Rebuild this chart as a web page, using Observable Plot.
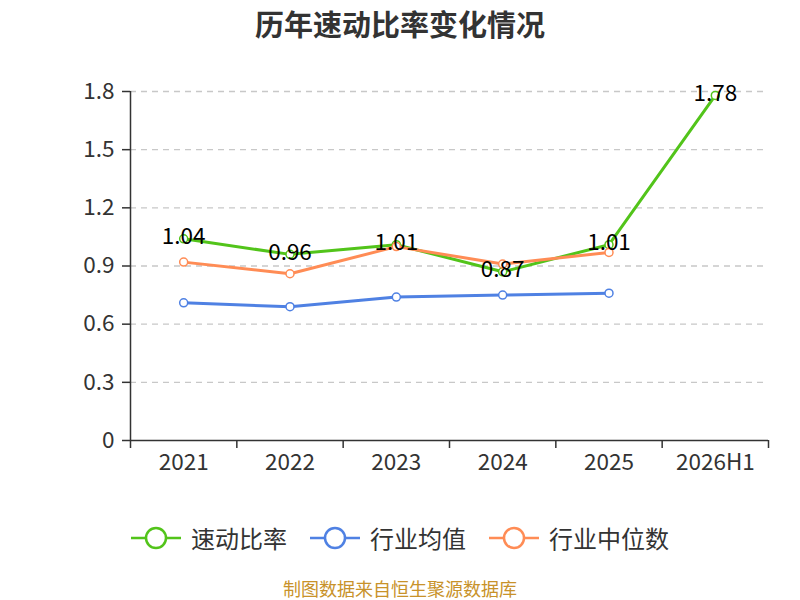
<!DOCTYPE html>
<html>
<head>
<meta charset="utf-8">
<script src="https://cdn.jsdelivr.net/npm/d3@7"></script>
<script src="https://cdn.jsdelivr.net/npm/@observablehq/plot@0.6"></script>
<style>
  body { margin: 0; background: #fff; font-family: "Noto Sans CJK SC", "Noto Sans", sans-serif; }
  #wrap { width: 800px; height: 600px; position: relative; overflow: hidden; }
  #title { height: 50px; line-height: 46px; text-align: center; font-size: 29px; font-weight: bold; color: #333; }
  #legend { position: absolute; top: 522px; left: 0; width: 800px; display: flex; justify-content: center; font-size: 24px; color: #333; white-space: nowrap; line-height: 32px; }
  .item { display: inline-flex; align-items: center; margin: 0 11.5px; }
  .item svg { margin-right: 10px; }
  #caption { position: absolute; top: 577px; left: 0; width: 800px; text-align: center; font-size: 18px; line-height: 22px; color: #c8922a; }
  #chart svg text { font-size: 22.5px; }
</style>
</head>
<body>
<div id="wrap">
  <div id="title">历年速动比率变化情况</div>
  <div id="chart"></div>
  <div id="legend"></div>
  <div id="caption">制图数据来自恒生聚源数据库</div>
</div>
<script>
const categories = ["2021", "2022", "2023", "2024", "2025", "2026H1"];
const quickRatio = [1.04, 0.96, 1.01, 0.87, 1.01, 1.78];
const industryAvg = [0.71, 0.69, 0.74, 0.75, 0.76];
const industryMedian = [0.92, 0.86, 1.00, 0.91, 0.97];
const yTicks = [0, 0.3, 0.6, 0.9, 1.2, 1.5, 1.8];
const seriesNames = ["速动比率", "行业均值", "行业中位数"];
const colors = ["#52c41a", "#4f81e3", "#ff8c55"];

const toRows = (vals, name) => vals.map((v, i) => ({ i: i + 0.5, v, name }));
const qRows = toRows(quickRatio, seriesNames[0]);
const aRows = toRows(industryAvg, seriesNames[1]);
const mRows = toRows(industryMedian, seriesNames[2]);

const font = "Noto Sans CJK SC, Noto Sans, sans-serif";

const chart = Plot.plot({
  width: 800,
  height: 450,
  marginLeft: 130,
  marginRight: 32,
  marginTop: 41,
  marginBottom: 60,
  style: { fontFamily: font, fontSize: "22.5px", background: "#fff", overflow: "visible" },
  x: { type: "linear", domain: [0, categories.length], label: null },
  y: { domain: [0, 1.8], label: null },
  marks: [
    Plot.gridY(yTicks.filter(d => d > 0), { stroke: "#c8c8c8", strokeOpacity: 1, strokeDasharray: "6,5", strokeWidth: 1.3 }),
    Plot.ruleX([0], { stroke: "#333", strokeWidth: 1.5 }),
    Plot.ruleY([0], { stroke: "#333", strokeWidth: 1.5 }),
    Plot.axisY({ ticks: yTicks, tickSize: 8, tickPadding: 8, stroke: "#333", label: null, tickFormat: d => String(d), fill: "#333", strokeWidth: 1.5 }),
    Plot.axisX({ ticks: d3.range(0, categories.length + 1), tickSize: 8, label: null, tickFormat: () => "", stroke: "#333", strokeWidth: 1.5 }),
    Plot.axisX({ ticks: categories.map((c, i) => i + 0.5), tickSize: 0, tickPadding: 14, label: null, tickFormat: d => categories[Math.round(d - 0.5)], fill: "#333" }),
    Plot.line(qRows, { x: "i", y: "v", stroke: colors[0], strokeWidth: 3 }),
    Plot.line(aRows, { x: "i", y: "v", stroke: colors[1], strokeWidth: 3 }),
    Plot.line(mRows, { x: "i", y: "v", stroke: colors[2], strokeWidth: 3 }),
    Plot.dot(qRows, { x: "i", y: "v", r: 4, fill: "#fff", stroke: colors[0], strokeWidth: 1.5 }),
    Plot.dot(aRows, { x: "i", y: "v", r: 4, fill: "#fff", stroke: colors[1], strokeWidth: 1.5 }),
    Plot.dot(mRows, { x: "i", y: "v", r: 4, fill: "#fff", stroke: colors[2], strokeWidth: 1.5 }),
    Plot.text(qRows, { x: "i", y: "v", text: d => d.v.toFixed(2), dy: -2, fill: "#000" })
  ]
});
document.getElementById("chart").appendChild(chart);

const legend = document.getElementById("legend");
seriesNames.forEach((name, k) => {
  const span = document.createElement("span");
  span.className = "item";
  span.innerHTML = `<svg width="50" height="24"><line x1="0" y1="12" x2="50" y2="12" stroke="${colors[k]}" stroke-width="2.5"/><circle cx="25" cy="12" r="10" fill="#fff" stroke="${colors[k]}" stroke-width="2.5"/></svg><span>${name}</span>`;
  legend.appendChild(span);
});
</script>
</body>
</html>
